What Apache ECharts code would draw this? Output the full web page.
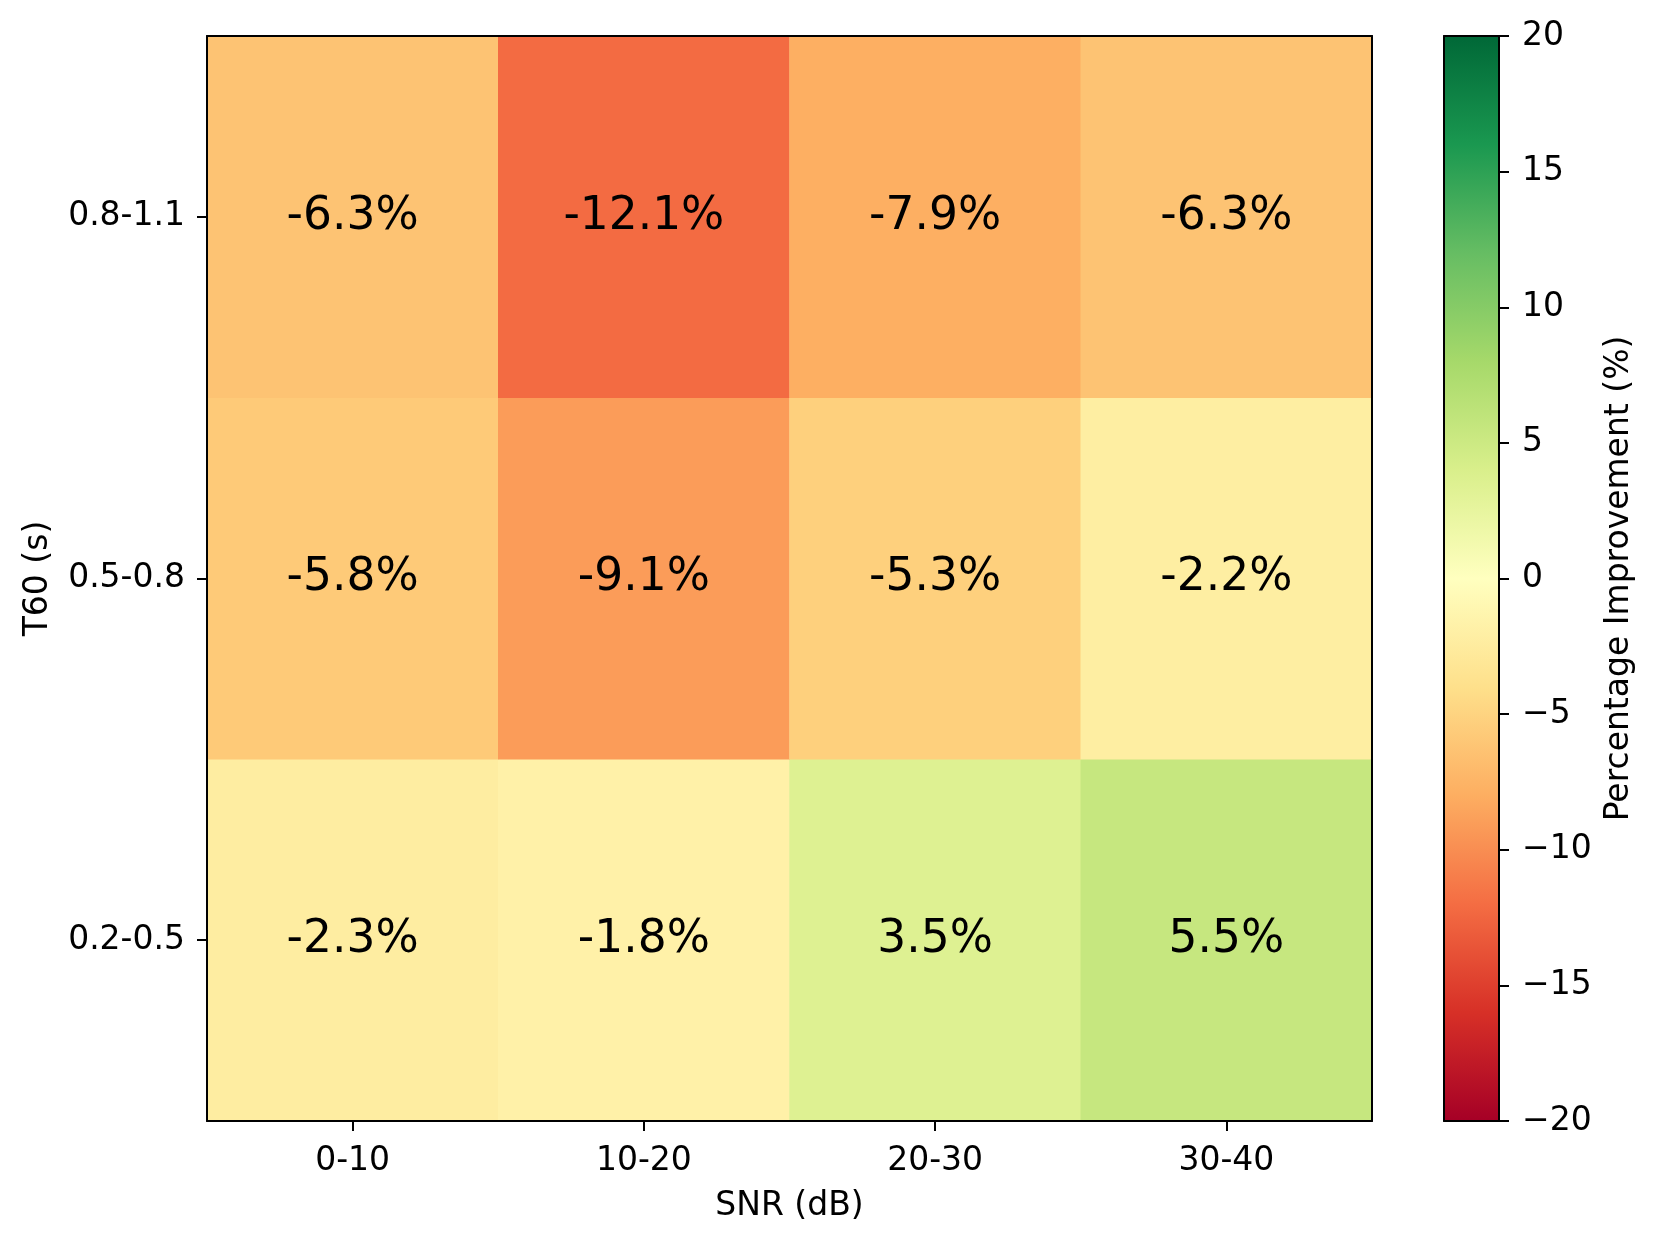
<!DOCTYPE html>
<html>
<head>
<meta charset="utf-8">
<script src="https://cdn.jsdelivr.net/npm/echarts@6/dist/echarts.min.js"></script>
<style>
html,body{margin:0;padding:0;background:#fff;}
#chart{width:1659px;height:1245px;}
</style>
</head>
<body>
<div id="chart"></div>
<script>
// ---- data ----
var snrLabels = ['0-10', '10-20', '20-30', '30-40'];
var t60Labels = ['0.2-0.5', '0.5-0.8', '0.8-1.1']; // bottom to top
var row_02_05 = [-2.3, -1.8, 3.5, 5.5];
var row_05_08 = [-5.8, -9.1, -5.3, -2.2];
var row_08_11 = [-6.3, -12.1, -7.9, -6.3];
var colorbarTicks = [-20, -15, -10, -5, 0, 5, 10, 15, 20];
// RdYlGn colormap stops (low -> high)
var rdylgn = ['#a50026', '#d73027', '#f46d43', '#fdae61', '#fee08b', '#ffffbf',
              '#d9ef8b', '#a6d96a', '#66bd63', '#1a9850', '#006837'];

var rows = [row_02_05, row_05_08, row_08_11];
var heatData = [];
rows.forEach(function (row, yi) {
  row.forEach(function (v, xi) { heatData.push([xi, yi, v]); });
});

var FONT = 'DejaVu Sans';
var TICK = 33;
var lineStyle = { color: '#000', width: 2 };

var chart = echarts.init(document.getElementById('chart'), null, { renderer: 'canvas' });

var gradStops = rdylgn.map(function (c, i) {
  return { offset: 1 - i / (rdylgn.length - 1), color: c };
});

var option = {
  animation: false,
  backgroundColor: '#fff',
  textStyle: { fontFamily: FONT },
  grid: [
    { left: 207, top: 36, width: 1165, height: 1085, show: false },
    { left: 1444, top: 36, width: 55, height: 1085, show: false }
  ],
  visualMap: {
    show: false,
    type: 'continuous',
    min: -20, max: 20,
    seriesIndex: 0,
    dimension: 2,
    inRange: { color: rdylgn }
  },
  xAxis: [
    {
      type: 'category', gridIndex: 0, position: 'bottom', data: snrLabels, z: 10,
      axisLine: { show: true, onZero: false, lineStyle: lineStyle },
      axisTick: { show: true, alignWithLabel: true, length: 10, lineStyle: lineStyle },
      axisLabel: { color: '#000', fontSize: TICK, fontFamily: FONT, margin: 24 },
      splitLine: { show: false },
      name: 'SNR (dB)', nameLocation: 'middle', nameGap: 69,
      nameTextStyle: { color: '#000', fontSize: TICK, fontFamily: FONT }
    },
    {
      type: 'category', gridIndex: 0, position: 'top', data: snrLabels, z: 10,
      axisLine: { show: true, onZero: false, lineStyle: lineStyle },
      axisTick: { show: false }, axisLabel: { show: false }, splitLine: { show: false }
    },
    {
      type: 'value', gridIndex: 1, position: 'bottom', min: 0, max: 1, z: 10,
      axisLine: { show: true, onZero: false, lineStyle: lineStyle },
      axisTick: { show: false }, axisLabel: { show: false }, splitLine: { show: false }
    },
    {
      type: 'value', gridIndex: 1, position: 'top', min: 0, max: 1, z: 10,
      axisLine: { show: true, onZero: false, lineStyle: lineStyle },
      axisTick: { show: false }, axisLabel: { show: false }, splitLine: { show: false }
    }
  ],
  yAxis: [
    {
      type: 'category', gridIndex: 0, position: 'left', data: t60Labels, z: 10,
      axisLine: { show: true, onZero: false, lineStyle: lineStyle },
      axisTick: { show: true, alignWithLabel: true, length: 10, lineStyle: lineStyle },
      axisLabel: { color: '#000', fontSize: TICK, fontFamily: FONT, margin: 22 },
      splitLine: { show: false },
      name: 'T60 (s)', nameLocation: 'middle', nameGap: 152, nameRotate: 90,
      nameTextStyle: { color: '#000', fontSize: TICK, fontFamily: FONT }
    },
    {
      type: 'category', gridIndex: 0, position: 'right', data: t60Labels, z: 10,
      axisLine: { show: true, onZero: false, lineStyle: lineStyle },
      axisTick: { show: false }, axisLabel: { show: false }, splitLine: { show: false }
    },
    {
      type: 'value', gridIndex: 1, position: 'left', min: -20, max: 20, z: 10,
      axisLine: { show: true, onZero: false, lineStyle: lineStyle },
      axisTick: { show: false }, axisLabel: { show: false }, splitLine: { show: false }
    },
    {
      type: 'value', gridIndex: 1, position: 'right', min: -20, max: 20, interval: 5, z: 10,
      axisLine: { show: true, onZero: false, lineStyle: lineStyle },
      axisTick: { show: true, length: 10, lineStyle: lineStyle },
      axisLabel: {
        color: '#000', fontSize: TICK, fontFamily: FONT, margin: 23,
        formatter: function (v) { return v < 0 ? '\u2212' + Math.abs(v) : String(v); }
      },
      splitLine: { show: false },
      name: 'Percentage Improvement (%)', nameLocation: 'middle', nameGap: 104, nameRotate: 90,
      nameTextStyle: { color: '#000', fontSize: TICK, fontFamily: FONT }
    }
  ],
  series: [
    {
      type: 'heatmap',
      xAxisIndex: 0, yAxisIndex: 0,
      data: heatData,
      itemStyle: { borderWidth: 0 },
      label: {
        show: true, color: '#000', fontSize: 45.5, fontFamily: FONT,
        formatter: function (p) { return p.value[2].toFixed(1) + '%'; }
      },
      emphasis: { disabled: true }
    },
    {
      type: 'custom',
      xAxisIndex: 2, yAxisIndex: 3,
      data: [[0, colorbarTicks[colorbarTicks.length - 1], 1, colorbarTicks[0]]],
      renderItem: function (params, api) {
        var p1 = api.coord([api.value(0), api.value(1)]);
        var p2 = api.coord([api.value(2), api.value(3)]);
        return {
          type: 'rect',
          shape: { x: p1[0], y: p1[1], width: p2[0] - p1[0], height: p2[1] - p1[1] },
          style: { fill: new echarts.graphic.LinearGradient(0, 0, 0, 1, gradStops) }
        };
      },
      silent: true
    }
  ]
};
chart.setOption(option);
</script>
</body>
</html>
